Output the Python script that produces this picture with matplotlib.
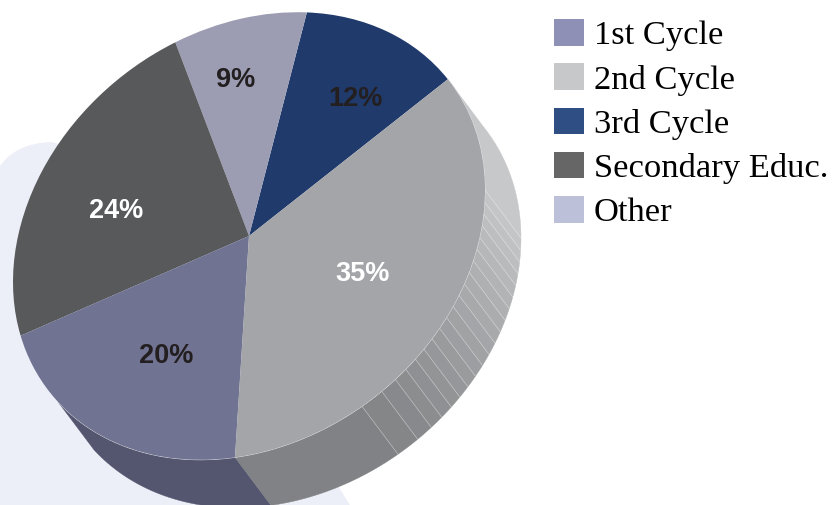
import matplotlib
matplotlib.use("Agg")
import matplotlib.pyplot as plt
import numpy as np
from matplotlib.patches import Patch, PathPatch
from matplotlib.path import Path
from matplotlib.transforms import Affine2D

# slices in drawing order, counter clockwise from the 3rd Cycle / 2nd Cycle edge
slice_names = ["3rd Cycle", "Other", "Secondary Educ.", "1st Cycle", "2nd Cycle"]
slice_values = [12, 9, 24, 20, 35]
slice_colors = ["#1f3a6b", "#9c9db3", "#58595b", "#707391", "#a4a5a9"]
pct_text_colors = ["#231f20", "#231f20", "#ffffff", "#231f20", "#ffffff"]
pct_x = [355, 236, 116, 166, 363]
pct_y = [99, 80, 211, 356, 274]

legend_names = ["1st Cycle", "2nd Cycle", "3rd Cycle", "Secondary Educ.", "Other"]
legend_colors = ["#8e90b6", "#c7c8ca", "#2e4e84", "#666667", "#bdc0d9"]

# side of the disc: band edges in degrees, seen in the picture
band_edges = [298.6, 304.2, 308.3, 311.6, 314.8, 317.8, 320.8, 323.8, 326.8, 329.8,
              332.8, 335.8, 338.8, 341.8, 344.8, 347.8, 350.8, 353.8, 356.8, 360.0, 392.6]

START = 32.6
DEPTH = (36, 48)

fig = plt.figure(figsize=(8.32, 5.05), dpi=100)
ax = fig.add_axes([0, 0, 1, 1])

wedges, _ = ax.pie(slice_values, colors=slice_colors, startangle=START, counterclock=True,
                   wedgeprops={"linewidth": 0, "zorder": 5})
ax.set_aspect("auto")
ax.set_xlim(0, 832)
ax.set_ylim(505, 0)
ax.axis("off")

# unit circle to tilted ellipse, in pixel coordinates of the axes
tilt = Affine2D.from_values(236, -46, 0, -219, 249, 236)
for w in wedges:
    w.set_transform(tilt + ax.transData)


def rim(t):
    t = np.radians(t)
    return tilt.transform(np.column_stack([np.cos(t), np.sin(t)]))


def side(t0, t1, color):
    top = rim(np.linspace(t0, t1, 40))
    ax.fill(np.r_[top[:, 0], top[::-1, 0] + DEPTH[0]],
            np.r_[top[:, 1], top[::-1, 1] + DEPTH[1]],
            facecolor=color, edgecolor=color, linewidth=0.3, zorder=3)


# pale shape behind the chart
blob = Path([(0, 505), (0, 166), (16, 143), (52, 142), (250, 200), (338, 486), (350, 505), (0, 505)],
            [Path.MOVETO, Path.LINETO, Path.CURVE3, Path.CURVE3, Path.LINETO, Path.LINETO, Path.LINETO, Path.CLOSEPOLY])
ax.add_patch(PathPatch(blob, facecolor="#eceff7", edgecolor="none", zorder=1))

second_start = START + 360 * sum(slice_values[:4]) / 100

side(216, second_start, "#54556f")
lo = second_start
for i, hi in enumerate(band_edges):
    mix = i / (len(band_edges) - 1)
    c = np.array([0x80, 0x82, 0x85]) * (1 - mix) + np.array([0xc7, 0xc8, 0xca]) * mix
    side(lo, hi, c / 255)
    # thin seam between two bands
    if hi < 392:
        p = rim(np.array([hi]))[0]
        ax.plot([p[0], p[0] + DEPTH[0]], [p[1], p[1] + DEPTH[1]], color="#ffffff", alpha=0.4, lw=0.5, zorder=3.5)
    lo = hi

arc = rim(np.linspace(216, 392.6, 200))
ax.plot(arc[:, 0], arc[:, 1], color="#e4e5e8", lw=0.6, zorder=4)

for x, y, v, c in zip(pct_x, pct_y, slice_values, pct_text_colors):
    ax.text(x, y, f"{v}%", color=c, ha="center", va="center", fontsize=19.5, fontweight="bold",
            family="Liberation Sans", zorder=6)

handles = [Patch(facecolor=c, edgecolor="none") for c in legend_colors]
ax.legend(handles, legend_names, loc="upper left", bbox_to_anchor=(554, 19), bbox_transform=ax.transData,
          frameon=False, borderpad=0, borderaxespad=0, handlelength=0.865, handleheight=0.81,
          handletextpad=0.29, labelspacing=0.35, prop={"family": "Liberation Serif", "size": 24.8})

fig.savefig("out.png", dpi=100)
